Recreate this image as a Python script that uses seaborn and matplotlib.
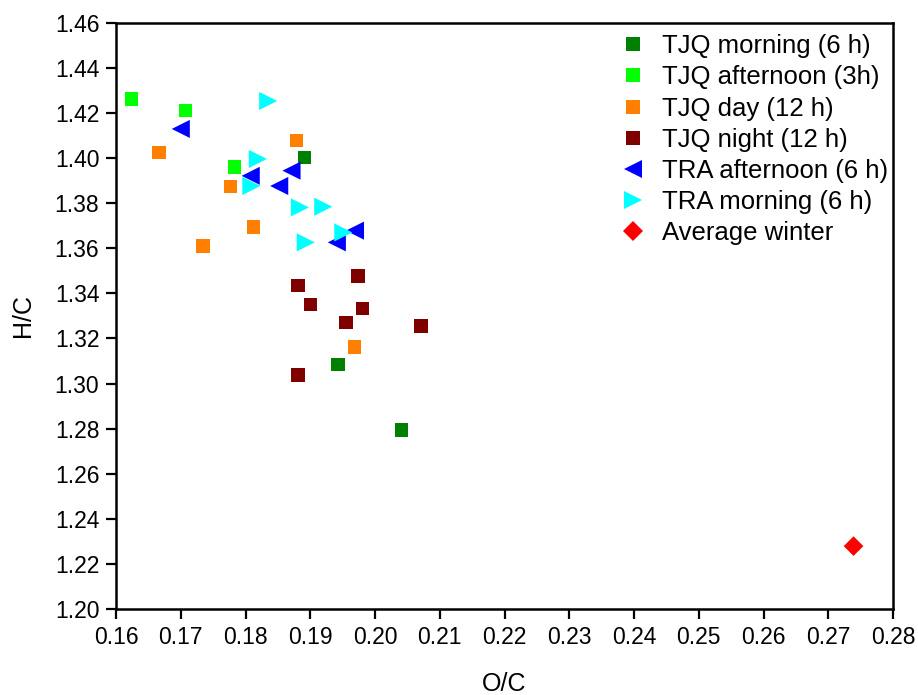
import matplotlib
matplotlib.use("Agg")
import matplotlib.pyplot as plt
import seaborn as sns
import pandas as pd
import numpy as np


# ==========================================
# data
# ==========================================
tjq_morning_x = [0.1891, 0.1943, 0.2041]
tjq_morning_y = [1.4003, 1.3085, 1.2794]

tjq_afternoon_x = [0.1624, 0.1707, 0.1783]
tjq_afternoon_y = [1.4262, 1.4210, 1.3960]

tjq_day_x = [0.1666, 0.1777, 0.1879, 0.1812, 0.1734, 0.1968]
tjq_day_y = [1.4024, 1.3873, 1.4077, 1.3693, 1.3611, 1.3163]

tjq_night_x = [0.1974, 0.1881, 0.1900, 0.1981, 0.1955, 0.2071, 0.1881]
tjq_night_y = [1.3477, 1.3434, 1.3350, 1.3332, 1.3271, 1.3255, 1.3038]

tra_afternoon_x = [0.1700, 0.1808, 0.1852, 0.1871, 0.1969, 0.1941]
tra_afternoon_y = [1.4129, 1.3921, 1.3876, 1.3944, 1.3678, 1.3626]

tra_morning_x = [0.1835, 0.1819, 0.1809, 0.1884, 0.1920, 0.1951, 0.1893]
tra_morning_y = [1.4253, 1.3996, 1.3876, 1.3781, 1.3784, 1.3670, 1.3626]

winter_x = [0.2739]
winter_y = [1.2279]

groups = ["TJQ morning (6 h)", "TJQ afternoon (3h)", "TJQ day (12 h)",
          "TJQ night (12 h)", "TRA afternoon (6 h)", "TRA morning (6 h)",
          "Average winter"]
xs = [tjq_morning_x, tjq_afternoon_x, tjq_day_x, tjq_night_x,
      tra_afternoon_x, tra_morning_x, winter_x]
ys = [tjq_morning_y, tjq_afternoon_y, tjq_day_y, tjq_night_y,
      tra_afternoon_y, tra_morning_y, winter_y]

colors = ["#008000", "#00ff00", "#ff8000", "#800000", "#0000ff", "#00ffff", "#ff0000"]
markers = ["s", "s", "s", "s", "<", ">", "D"]
sizes = [95, 95, 95, 95, 170, 170, 100]

df = pd.concat([pd.DataFrame({"O/C": x, "H/C": y, "group": g})
                for g, x, y in zip(groups, xs, ys)], ignore_index=True)

# ==========================================
# plot
# ==========================================
sns.set_style("ticks")
plt.rcParams["font.family"] = ["Liberation Sans", "DejaVu Sans"]
plt.rcParams["text.color"] = "black"
plt.rcParams["axes.labelcolor"] = "black"

fig = plt.figure(figsize=(9.18, 6.95), dpi=100)
ax = fig.add_axes([0.1264, 0.1237, 0.8464, 0.8436])

sns.scatterplot(data=df, x="O/C", y="H/C", hue="group", style="group", size="group",
                hue_order=groups, style_order=groups, size_order=groups,
                palette=dict(zip(groups, colors)),
                markers=dict(zip(groups, markers)),
                sizes=dict(zip(groups, sizes)),
                linewidth=0, alpha=1, ax=ax)

ax.set_xlim(0.16, 0.28)
ax.set_ylim(1.20, 1.46)
ax.set_xticks(np.arange(0.16, 0.2801, 0.01))
ax.set_yticks(np.arange(1.20, 1.4601, 0.02))
ax.xaxis.set_major_formatter(matplotlib.ticker.FormatStrFormatter("%.2f"))
ax.yaxis.set_major_formatter(matplotlib.ticker.FormatStrFormatter("%.2f"))
ax.tick_params(direction="out", length=7, width=1.6, labelsize=16.5, pad=5,
               color="black", labelcolor="black")
for sp in ax.spines.values():
    sp.set_visible(True)
    sp.set_linewidth(1.8)
    sp.set_color("black")

ax.set_xlabel("O/C", fontsize=18, labelpad=17, color="black")
ax.set_ylabel("H/C", fontsize=18, labelpad=14, color="black")

handles, labels = ax.get_legend_handles_labels()
leg = ax.legend(handles, labels, loc="upper right", bbox_to_anchor=(1.008, 1.0),
                frameon=False, fontsize=18.5, labelspacing=0.28, handletextpad=0.6,
                borderaxespad=0.05, handlelength=1.0)
for t in leg.get_texts():
    t.set_color("black")

fig.savefig("out.png", dpi=100)
plt.close(fig)
